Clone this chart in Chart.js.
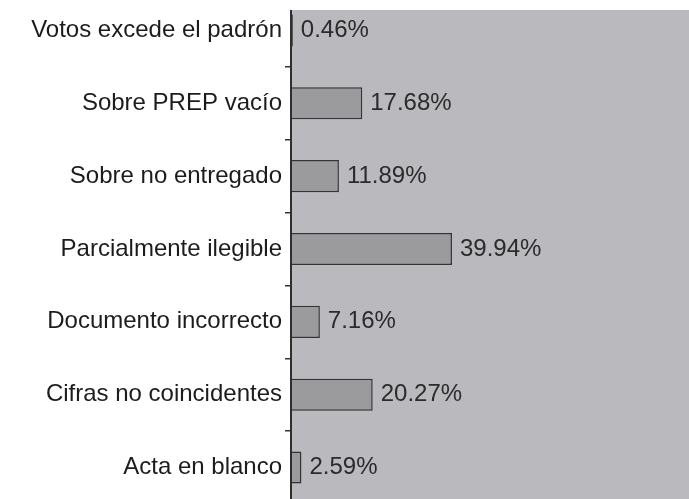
<!DOCTYPE html>
<html>
<head>
<meta charset="utf-8">
<script src="https://cdn.jsdelivr.net/npm/chart.js@4"></script>
<style>
  html, body { margin: 0; padding: 0; background: #ffffff; }
  #frame { position: relative; width: 689px; height: 499px; overflow: hidden; background: #ffffff; }
  #wrap { position: absolute; left: 0; top: -6px; width: 700px; height: 510px; }
</style>
</head>
<body>
<div id="frame"><div id="wrap"><canvas id="c" width="700" height="510"></canvas></div></div>
<script>
const categories = [
  "Votos excede el padrón",
  "Sobre PREP vacío",
  "Sobre no entregado",
  "Parcialmente ilegible",
  "Documento incorrecto",
  "Cifras no coincidentes",
  "Acta en blanco"
];
const values = [0.46, 17.68, 11.89, 39.94, 7.16, 20.27, 2.59];
const valueLabels = ["0.46%", "17.68%", "11.89%", "39.94%", "7.16%", "20.27%", "2.59%"];

const FONT = "'Liberation Sans', Arial, sans-serif";

const plotBg = {
  id: 'plotBg',
  beforeDatasetsDraw(chart) {
    const { ctx, chartArea } = chart;
    ctx.save();
    ctx.fillStyle = '#b9b9be';
    ctx.fillRect(chartArea.left, chartArea.top + 16, chart.width - chartArea.left, chart.height);
    ctx.restore();
  },
  afterDatasetsDraw(chart) {
    const { ctx, chartArea } = chart;
    ctx.save();
    ctx.strokeStyle = '#2e2e2e';
    ctx.lineWidth = 2;
    ctx.beginPath();
    ctx.moveTo(chartArea.left, chartArea.top + 16);
    ctx.lineTo(chartArea.left, chart.height);
    ctx.stroke();
    // value labels
    const meta = chart.getDatasetMeta(0);
    ctx.font = '24px ' + FONT;
    ctx.fillStyle = '#2b2b2b';
    ctx.textBaseline = 'middle';
    ctx.textAlign = 'left';
    meta.data.forEach((el, i) => {
      ctx.fillText(valueLabels[i], el.x + 8, el.y);
    });
    ctx.restore();
  }
};

new Chart(document.getElementById('c'), {
  type: 'bar',
  data: {
    labels: categories,
    datasets: [{
      data: values,
      backgroundColor: '#9b9b9d',
      borderColor: '#333333',
      borderWidth: 1.5,
      borderSkipped: 'start',
      barPercentage: 0.44,
      categoryPercentage: 1
    }]
  },
  options: {
    indexAxis: 'y',
    responsive: false,
    devicePixelRatio: 1,
    animation: false,
    layout: { padding: { left: 0, right: 6, top: 0, bottom: 0 } },
    plugins: { legend: { display: false }, tooltip: { enabled: false } },
    scales: {
      x: { display: false, min: 0, max: 100 },
      y: {
        afterFit(scale) {
          scale.width = 291;
          scale.paddingTop = 0;
          scale.paddingBottom = 0;
        },
        border: { display: false },
        grid: {
          display: true, drawOnChartArea: false, drawTicks: true,
          tickLength: 6, offset: true, color: '#333333', lineWidth: 1.5
        },
        ticks: {
          padding: 3,
          color: '#1c1c1c',
          font: { family: FONT, size: 24 }
        }
      }
    }
  },
  plugins: [plotBg]
});
</script>
</body>
</html>
